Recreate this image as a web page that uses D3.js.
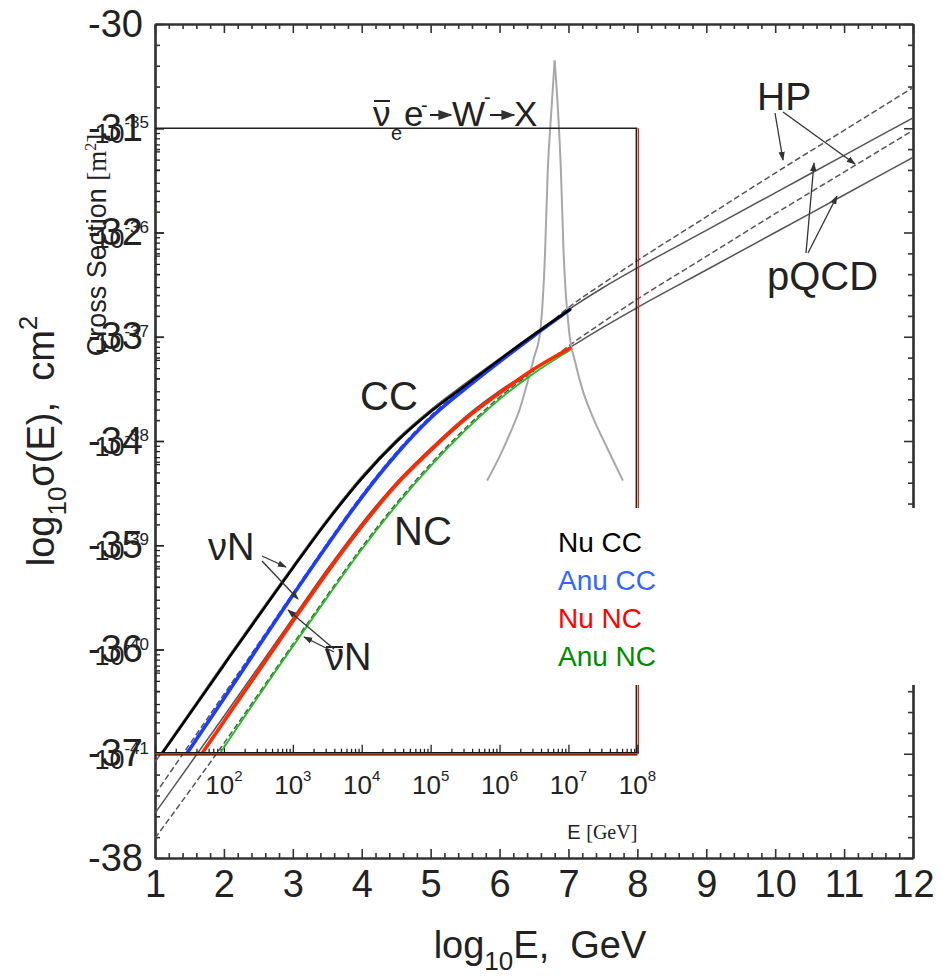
<!DOCTYPE html>
<html>
<head>
<meta charset="utf-8">
<script src="https://cdn.jsdelivr.net/npm/d3@7"></script>
<style>
  body { margin: 0; background: #fff; }
  text { font-family: 'Liberation Sans', Arial, sans-serif; fill: #222; }
</style>
</head>
<body>
<svg id="chart" width="941" height="979"></svg>
<script>
// ---- outer chart: log10 E [GeV] vs log10 sigma [cm^2] (grey curves) ----
const ccPQCD = [[1,-37.08],[2,-36.13],[3,-35.20],[3.5,-34.75],[4,-34.34],[4.5,-33.99],[5,-33.70],[5.5,-33.45],[6,-33.21],[6.5,-32.97],[7,-32.74],[7.5,-32.53],[8,-32.34],[9,-31.98],[10,-31.62],[11,-31.26],[12,-30.90]]
const ccBar = [[1,-37.39],[2,-36.43],[3,-35.46],[3.5,-34.98],[4,-34.52],[4.5,-34.11],[5,-33.76],[5.5,-33.48],[6,-33.22]]
const ncPQCD = [[1,-37.57],[2,-36.64],[3,-35.70],[3.5,-35.23],[4,-34.79],[4.5,-34.40],[5,-34.07],[5.5,-33.77],[6,-33.52],[6.5,-33.31],[7,-33.11],[7.5,-32.91],[8,-32.72],[9,-32.36],[10,-32.00],[11,-31.64],[12,-31.28]]
const ncBar = [[1,-37.81],[2,-36.90],[3,-35.95],[3.5,-35.48],[4,-35.02],[4.5,-34.60],[5,-34.22],[5.5,-33.88],[6,-33.58],[6.5,-33.33]]
const ccHP = [[6.8,-32.83],[7,-32.72],[7.5,-32.49],[8,-32.27],[9,-31.85],[10,-31.43],[11,-31.02],[12,-30.61]]
const ncHP = [[6.8,-33.19],[7,-33.09],[7.5,-32.86],[8,-32.64],[9,-32.23],[10,-31.82],[11,-31.42],[12,-31.02]]
// Glashow resonance (anti-nu_e e-), two sides of the peak
const glashowRise = [[5.82,-34.38],[6.0,-34.15],[6.15,-33.93],[6.3,-33.68],[6.4,-33.45],[6.5,-33.20],[6.59,-32.95],[6.66,-32.20],[6.70,-31.40],[6.75,-30.85],[6.8,-30.35]]
const glashowFall = [[6.8,-30.35],[6.85,-30.85],[6.89,-31.40],[6.93,-32.20],[7.01,-32.95],[7.1,-33.25],[7.2,-33.50],[7.36,-33.78],[7.55,-34.05],[7.79,-34.38]]

// ---- inner chart: log10 E [GeV] vs log10 cross section [m^2] ----
const nuCC = [[1.1,-41.0],[2,-40.15],[3,-39.22],[3.5,-38.77],[4,-38.36],[4.5,-38.01],[5,-37.72],[5.5,-37.47],[6,-37.22],[6.5,-36.98],[7.02,-36.74]]
const anuCC = [[1.46,-41.0],[2,-40.47],[3,-39.48],[3.5,-39.00],[4,-38.54],[4.5,-38.13],[5,-37.78],[5.5,-37.50],[6,-37.24],[6.5,-36.99],[7.02,-36.74]]
const nuNC = [[1.68,-41.0],[2,-40.69],[3,-39.73],[3.5,-39.26],[4,-38.82],[4.5,-38.42],[5,-38.09],[5.5,-37.79],[6,-37.54],[6.5,-37.31],[7.02,-37.11]]
const anuNC = [[1.94,-41.0],[2,-40.94],[3,-39.97],[3.5,-39.50],[4,-39.04],[4.5,-38.62],[5,-38.24],[5.5,-37.90],[6,-37.60],[6.5,-37.35],[7.02,-37.13]]

const outerXTicks = d3.range(1, 13)
const outerYTicks = d3.range(-38, -29)
const innerXExps = [2, 3, 4, 5, 6, 7, 8]
const innerYExps = [-35, -36, -37, -38, -39, -40, -41]
const legendNames = ['Nu CC', 'Anu CC', 'Nu NC', 'Anu NC']
const legendColors = ['#000000', '#3366ff', '#ff0000', '#008a00']

const svg = d3.select('#chart')
svg.append('rect').attr('width', 941).attr('height', 979).attr('fill', '#fff')

const x = d3.scaleLinear().domain([1, 12]).range([155, 913])
const y = d3.scaleLinear().domain([-38, -30]).range([858, 24])
const xi = d3.scaleLog().domain([1e1, 1e8]).range([x(1), x(8)])
const yi = d3.scaleLog().domain([1e-41, 1e-35]).range([y(-37), y(-31)])

const defs = svg.append('defs')
defs.append('clipPath').attr('id', 'outerClip').append('rect')
  .attr('x', x(1)).attr('y', y(-30)).attr('width', x(12) - x(1)).attr('height', y(-38) - y(-30))
defs.append('clipPath').attr('id', 'innerClip').append('rect')
  .attr('x', xi(1e1)).attr('y', yi(1e-35)).attr('width', xi(1e8) - xi(1e1)).attr('height', yi(1e-41) - yi(1e-35))
defs.append('marker').attr('id', 'arr').attr('viewBox', '0 0 10 10')
  .attr('refX', 9).attr('refY', 5).attr('markerWidth', 7).attr('markerHeight', 7)
  .attr('orient', 'auto')
  .append('path').attr('d', 'M0,1.5L10,5L0,8.5z').attr('fill', '#333')

// ---- outer axes ----
const minorOuterX = d3.range(0, 56).map(i => 1 + i * 0.2).filter((v, i) => i % 5 !== 0)
const minorOuterY = d3.range(0, 41).map(i => -38 + i * 0.2).filter((v, i) => i % 5 !== 0)

function styleAxis(g){
  g.select('.domain').attr('stroke', '#333').attr('stroke-width', 2.2)
  g.selectAll('.tick line').attr('stroke', '#333').attr('stroke-width', 1.6)
  g.selectAll('text').attr('font-family', "'Liberation Sans', Arial, sans-serif").attr('fill', '#222')
}

const gBottom = svg.append('g').attr('transform', `translate(0,${y(-38)})`)
gBottom.append('g').call(d3.axisBottom(x).tickValues(minorOuterX).tickSizeInner(-5).tickSizeOuter(0).tickFormat('')).call(styleAxis)
gBottom.append('g').call(d3.axisBottom(x).tickValues(outerXTicks).tickSizeInner(-9).tickSizeOuter(0).tickPadding(12).tickFormat(d3.format('d')))
  .call(styleAxis).call(g => g.selectAll('text').attr('font-size', 38))

const gTop = svg.append('g').attr('transform', `translate(0,${y(-30)})`)
gTop.append('g').call(d3.axisTop(x).tickValues(minorOuterX).tickSizeInner(-5).tickSizeOuter(0).tickFormat('')).call(styleAxis)
gTop.append('g').call(d3.axisTop(x).tickValues(outerXTicks).tickSizeInner(-9).tickSizeOuter(0).tickFormat('')).call(styleAxis)

const gLeft = svg.append('g').attr('transform', `translate(${x(1)},0)`)
gLeft.append('g').call(d3.axisLeft(y).tickValues(minorOuterY).tickSizeInner(-5).tickSizeOuter(0).tickFormat('')).call(styleAxis)
gLeft.append('g').call(d3.axisLeft(y).tickValues(outerYTicks).tickSizeInner(-9).tickSizeOuter(0).tickPadding(12).tickFormat(d => String(d)))
  .call(styleAxis).call(g => g.selectAll('text').attr('font-size', 38))

const gRight = svg.append('g').attr('transform', `translate(${x(12)},0)`)
gRight.append('g').call(d3.axisRight(y).tickValues(minorOuterY).tickSizeInner(-5).tickSizeOuter(0).tickFormat('')).call(styleAxis)
gRight.append('g').call(d3.axisRight(y).tickValues(outerYTicks).tickSizeInner(-9).tickSizeOuter(0).tickFormat('')).call(styleAxis)

// outer axis titles
const xt = svg.append('text').attr('x', 540).attr('y', 958).attr('text-anchor', 'middle')
  .attr('font-size', 38).style('white-space', 'pre')
xt.append('tspan').text('log')
xt.append('tspan').attr('font-size', 26).attr('dy', 12).text('10')
xt.append('tspan').attr('dy', -12).text('E,  GeV')

const yt = svg.append('text').attr('transform', 'translate(54,441) rotate(-90)')
  .attr('text-anchor', 'middle').attr('font-size', 38).style('white-space', 'pre')
yt.append('tspan').text('log')
yt.append('tspan').attr('font-size', 26).attr('dy', 12).text('10')
yt.append('tspan').attr('dy', -12).text('σ(E),  cm')
yt.append('tspan').attr('font-size', 26).attr('dy', -17).text('2')

// ---- outer grey curves ----
const outerLine = d3.line().x(d => x(d[0])).y(d => y(d[1])).curve(d3.curveMonotoneX)
const gOuter = svg.append('g').attr('clip-path', 'url(#outerClip)').attr('fill', 'none')
const greyCurves = [
  { data: ccPQCD, dash: null },
  { data: ncPQCD, dash: null },
  { data: ccBar, dash: '6,3' },
  { data: ncBar, dash: '6,3' },
  { data: ccHP, dash: '6,3' },
  { data: ncHP, dash: '6,3' }
]
greyCurves.forEach(c => {
  gOuter.append('path').attr('d', outerLine(c.data))
    .attr('stroke', '#555').attr('stroke-width', 1.5)
    .attr('stroke-dasharray', c.dash)
})
;[glashowRise, glashowFall].forEach(side => {
  gOuter.append('path').attr('d', outerLine(side))
    .attr('stroke', '#a8a8a8').attr('stroke-width', 2)
})

// ---- inner chart frame and axes ----
svg.append('line').attr('x1', xi(1e1)).attr('x2', xi(1e8)).attr('y1', yi(1e-35)).attr('y2', yi(1e-35))
  .attr('stroke', '#222').attr('stroke-width', 1.6)
svg.append('line').attr('x1', xi(1e8) - 1).attr('x2', xi(1e8) - 1).attr('y1', yi(1e-35)).attr('y2', yi(1e-41))
  .attr('stroke', '#222').attr('stroke-width', 1.6)
svg.append('line').attr('x1', xi(1e8) + 1).attr('x2', xi(1e8) + 1).attr('y1', yi(1e-35)).attr('y2', yi(1e-41))
  .attr('stroke', '#e02000').attr('stroke-width', 1.2)

const innerMajorX = d3.range(1, 9).map(e => 10 ** e)
const innerMinorX = d3.range(1, 8).flatMap(e => d3.range(2, 10).map(m => m * 10 ** e))
const innerMajorY = d3.range(-41, -34).map(e => 10 ** e)
const innerMinorY = d3.range(-41, -35).flatMap(e => d3.range(2, 10).map(m => m * 10 ** e))

function styleInner(g){
  g.select('.domain').remove()
  g.selectAll('.tick line').attr('stroke', '#222').attr('stroke-width', 1.3)
}
const gib = svg.append('g').attr('transform', `translate(0,${yi(1e-41)})`)
gib.append('g').call(d3.axisBottom(xi).tickValues(innerMinorX).tickSizeInner(-5).tickSizeOuter(0).tickFormat('')).call(styleInner)
gib.append('g').call(d3.axisBottom(xi).tickValues(innerMajorX).tickSizeInner(-9).tickSizeOuter(0).tickFormat('')).call(styleInner)
const gil = svg.append('g').attr('transform', `translate(${xi(1e1)},0)`)
gil.append('g').call(d3.axisLeft(yi).tickValues(innerMinorY).tickSizeInner(-5).tickSizeOuter(0).tickFormat('')).call(styleInner)
gil.append('g').call(d3.axisLeft(yi).tickValues(innerMajorY).tickSizeInner(-9).tickSizeOuter(0).tickFormat('')).call(styleInner)

// inner tick labels (10^n)
const narrow = "'Liberation Sans Narrow', 'Arial Narrow', 'Liberation Sans', sans-serif"
const serif = "'Liberation Serif', 'Times New Roman', serif"
innerXExps.forEach(e => {
  const t = svg.append('text').attr('x', xi(10 ** e)).attr('y', yi(1e-41) + 40)
    .attr('text-anchor', 'middle').attr('font-family', narrow).attr('font-size', 26)
  t.append('tspan').text('10')
  t.append('tspan').attr('font-size', 15).attr('dy', -13).text(e)
})
innerYExps.forEach(e => {
  const t = svg.append('text').attr('x', xi(1e1) - 6).attr('y', yi(10 ** e) + 15)
    .attr('text-anchor', 'end').attr('font-family', narrow).attr('font-size', 27)
  t.append('tspan').text('10')
  t.append('tspan').attr('font-size', 17).attr('dy', -15).text(String(e))
})
const el = svg.append('text').attr('x', xi(1e8)).attr('y', yi(1e-41) + 85).attr('text-anchor', 'end').attr('font-size', 20)
el.append('tspan').text('E ')
el.append('tspan').attr('font-family', serif).text('[GeV]')
const cl = svg.append('text').attr('transform', `translate(106,245) rotate(-90)`)
  .attr('text-anchor', 'middle').attr('font-size', 27)
cl.append('tspan').text('Cross Section ')
cl.append('tspan').attr('font-family', serif).text('[m')
cl.append('tspan').attr('font-family', serif).attr('font-size', 16).attr('dy', -10).text('2')
cl.append('tspan').attr('font-family', serif).attr('dy', 10).text(']')

// ---- inner coloured series ----
const innerLine = d3.line().x(d => xi(10 ** d[0])).y(d => yi(10 ** d[1])).curve(d3.curveMonotoneX)
const gInner = svg.append('g').attr('clip-path', 'url(#innerClip)').attr('fill', 'none')
const series = [
  { data: anuNC, color: '#22c022', w: 1.8 },
  { data: nuNC, color: '#ff2a00', w: 3.6 },
  { data: anuCC, color: '#1e3cff', w: 3.6 },
  { data: nuCC, color: '#000000', w: 2.6 }
]
series.forEach(s => {
  gInner.append('path').attr('d', innerLine(s.data))
    .attr('stroke', s.color).attr('stroke-width', s.w).attr('stroke-linecap', 'round')
})

// inner x axis line (black under red)
svg.append('line').attr('x1', xi(1e1)).attr('x2', xi(1e8)).attr('y1', yi(1e-41)).attr('y2', yi(1e-41))
  .attr('stroke', '#111').attr('stroke-width', 3.5)
svg.append('line').attr('x1', xi(1e1)).attr('x2', xi(1e8)).attr('y1', yi(1e-41)).attr('y2', yi(1e-41))
  .attr('stroke', '#ff2a00').attr('stroke-width', 1.6)

// ---- annotations ----
const big = 40
svg.append('text').attr('x', 360).attr('y', 410).attr('font-size', big).text('CC')
svg.append('text').attr('x', 394).attr('y', 545).attr('font-size', big).text('NC')
svg.append('text').attr('x', 757).attr('y', 110).attr('font-size', 39).text('HP')
svg.append('text').attr('x', 767).attr('y', 290).attr('font-size', big).text('pQCD')
svg.append('text').attr('x', 208).attr('y', 560).attr('font-size', 38).text('νN')
svg.append('text').attr('x', 325).attr('y', 670).attr('font-size', 38).text('νN')
svg.append('line').attr('x1', 326).attr('x2', 343).attr('y1', 647).attr('y2', 647).attr('stroke', '#222').attr('stroke-width', 2)

const arrows = [
  [262, 556, 286, 567], [262, 561, 298, 599],
  [334, 649, 288, 610], [334, 652, 304, 637],
  [775, 113, 783, 160], [783, 112, 855, 164],
  [806, 253, 814, 163], [808, 253, 837, 196]
]
arrows.forEach(a => {
  svg.append('line').attr('x1', a[0]).attr('y1', a[1]).attr('x2', a[2]).attr('y2', a[3])
    .attr('stroke', '#333').attr('stroke-width', 1.3).attr('marker-end', 'url(#arr)')
})

// reaction label
const rt = svg.append('g').attr('font-size', 35)
rt.append('text').attr('x', 373).attr('y', 126).text('ν')
rt.append('line').attr('x1', 374).attr('x2', 390).attr('y1', 101).attr('y2', 101).attr('stroke', '#222').attr('stroke-width', 2)
rt.append('text').attr('x', 391).attr('y', 140).attr('font-size', 20).text('e')
rt.append('text').attr('x', 404).attr('y', 126).text('e')
rt.append('text').attr('x', 421).attr('y', 112).attr('font-size', 20).text('-')
rt.append('line').attr('x1', 430).attr('x2', 451).attr('y1', 115).attr('y2', 115).attr('stroke', '#222').attr('stroke-width', 2).attr('marker-end', 'url(#arr)')
rt.append('text').attr('x', 452).attr('y', 126).text('W')
rt.append('text').attr('x', 484).attr('y', 104).attr('font-size', 20).text('-')
rt.append('line').attr('x1', 490).attr('x2', 514).attr('y1', 115).attr('y2', 115).attr('stroke', '#222').attr('stroke-width', 2).attr('marker-end', 'url(#arr)')
rt.append('text').attr('x', 514).attr('y', 126).text('X')

// ---- legend box (covers part of the frames) ----
svg.append('rect').attr('x', 540).attr('y', 508).attr('width', 401).attr('height', 177).attr('fill', '#fff')
legendNames.forEach((n, i) => {
  svg.append('text').attr('x', 558).attr('y', 552 + i * 38)
    .attr('font-family', "Lato, 'Open Sans', sans-serif").attr('font-size', 28)
    .style('fill', legendColors[i]).text(n)
})
</script>
</body>
</html>
